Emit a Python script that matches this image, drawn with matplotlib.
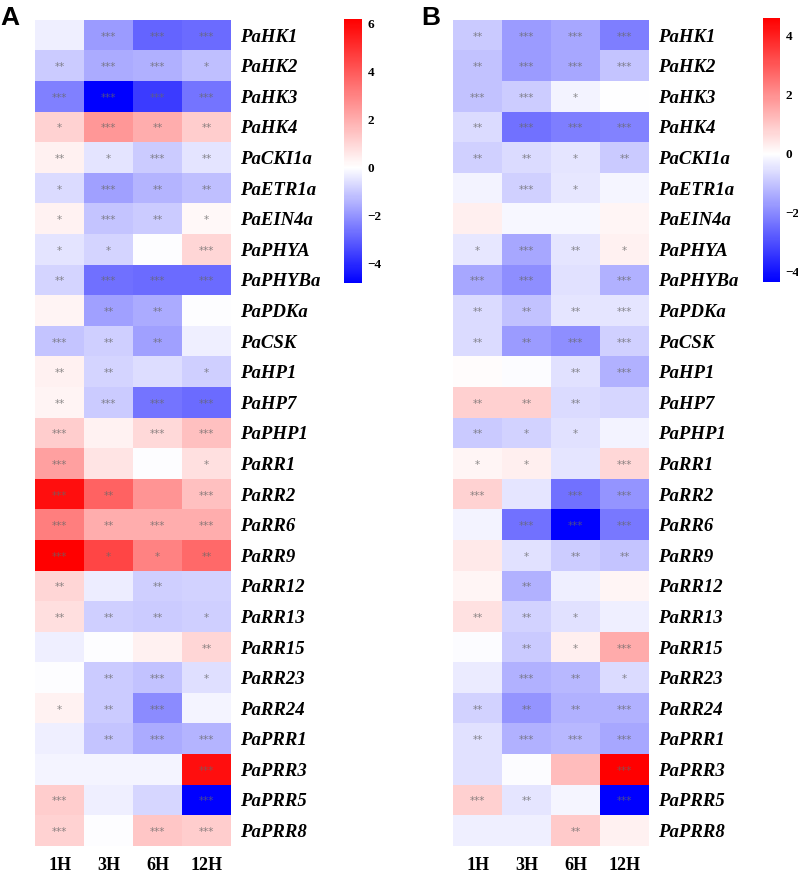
import numpy as np
import matplotlib
matplotlib.use("Agg")
import matplotlib.pyplot as plt
from matplotlib.colors import LinearSegmentedColormap, Normalize

genes = ["PaHK1", "PaHK2", "PaHK3", "PaHK4", "PaCKI1a", "PaETR1a", "PaEIN4a",
         "PaPHYA", "PaPHYBa", "PaPDKa", "PaCSK", "PaHP1", "PaHP7", "PaPHP1",
         "PaRR1", "PaRR2", "PaRR6", "PaRR9", "PaRR12", "PaRR13", "PaRR15",
         "PaRR23", "PaRR24", "PaPRR1", "PaPRR3", "PaPRR5", "PaPRR8"]
times = ["1H", "3H", "6H", "12H"]

# log2 fold change, panel A (rows = genes, cols = times)
values_a = [
    [-0.3, -1.9, -2.9, -2.8],
    [-1.0, -1.6, -1.5, -1.2],
    [-2.4, -4.83, -3.7, -2.6],
    [1.1, 2.5, 2.0, 1.2],
    [0.35, -0.5, -1.0, -0.5],
    [-0.7, -1.8, -1.4, -1.2],
    [0.3, -1.1, -1.0, 0.2],
    [-0.5, -0.8, -0.05, 1.0],
    [-0.8, -2.7, -2.8, -2.8],
    [0.25, -1.8, -1.6, -0.05],
    [-1.1, -0.9, -1.8, -0.3],
    [0.35, -0.8, -0.65, -0.9],
    [0.25, -1.0, -2.6, -2.8],
    [1.2, 0.3, 0.9, 1.5],
    [2.3, 0.65, -0.05, 0.75],
    [5.8, 3.8, 2.6, 1.5],
    [3.1, 2.0, 2.0, 2.0],
    [6.18, 4.5, 3.0, 3.6],
    [1.0, -0.35, -0.9, -0.85],
    [0.8, -0.9, -1.0, -0.9],
    [-0.3, -0.05, 0.35, 1.0],
    [-0.05, -1.0, -1.15, -0.6],
    [0.3, -1.0, -2.2, -0.2],
    [-0.3, -1.1, -1.6, -1.4],
    [-0.2, -0.2, -0.2, 5.8],
    [1.2, -0.3, -0.75, -4.83],
    [1.1, -0.05, 1.4, 1.2],
]
stars_a = [
    ["", "***", "***", "***"],
    ["**", "***", "***", "*"],
    ["***", "***", "***", "***"],
    ["*", "***", "**", "**"],
    ["**", "*", "***", "**"],
    ["*", "***", "**", "**"],
    ["*", "***", "**", "*"],
    ["*", "*", "", "***"],
    ["**", "***", "***", "***"],
    ["", "**", "**", ""],
    ["***", "**", "**", ""],
    ["**", "**", "", "*"],
    ["**", "***", "***", "***"],
    ["***", "", "***", "***"],
    ["***", "", "", "*"],
    ["***", "**", "", "***"],
    ["***", "**", "***", "***"],
    ["***", "*", "*", "**"],
    ["**", "", "**", ""],
    ["**", "**", "**", "*"],
    ["", "", "", "**"],
    ["", "**", "***", "*"],
    ["*", "**", "***", ""],
    ["", "**", "***", "***"],
    ["", "", "", "***"],
    ["***", "", "", "***"],
    ["***", "", "***", "***"],
]

# panel B
values_b = [
    [-0.9, -1.7, -1.5, -2.2],
    [-1.05, -1.7, -1.5, -1.0],
    [-1.05, -0.85, -0.2, -0.03],
    [-0.6, -2.4, -2.2, -2.1],
    [-0.8, -0.6, -0.45, -0.9],
    [-0.2, -0.8, -0.4, -0.15],
    [0.3, -0.12, -0.12, 0.2],
    [-0.4, -1.5, -0.45, 0.25],
    [-1.5, -1.9, -0.5, -1.3],
    [-0.6, -1.05, -0.45, -0.45],
    [-0.6, -1.7, -1.9, -0.8],
    [0.05, -0.07, -0.5, -1.3],
    [0.85, 0.85, -0.6, -0.7],
    [-0.9, -0.75, -0.5, -0.2],
    [0.2, 0.28, -0.45, 0.7],
    [0.8, -0.45, -2.4, -1.8],
    [-0.2, -2.4, -4.33, -2.3],
    [0.4, -0.5, -0.85, -1.0],
    [0.2, -1.3, -0.25, 0.2],
    [0.55, -0.75, -0.5, -0.25],
    [-0.05, -0.9, 0.3, 1.5],
    [-0.35, -1.3, -1.2, -0.6],
    [-0.75, -1.8, -1.3, -1.3],
    [-0.5, -1.3, -1.2, -1.5],
    [-0.5, -0.05, 1.2, 4.6],
    [0.85, -0.45, -0.15, -4.33],
    [-0.25, -0.25, 0.95, 0.25],
]
stars_b = [
    ["**", "***", "***", "***"],
    ["**", "***", "***", "***"],
    ["***", "***", "*", ""],
    ["**", "***", "***", "***"],
    ["**", "**", "*", "**"],
    ["", "***", "*", ""],
    ["", "", "", ""],
    ["*", "***", "**", "*"],
    ["***", "***", "", "***"],
    ["**", "**", "**", "***"],
    ["**", "**", "***", "***"],
    ["", "", "**", "***"],
    ["**", "**", "**", ""],
    ["**", "*", "*", ""],
    ["*", "*", "", "***"],
    ["***", "", "***", "***"],
    ["", "***", "***", "***"],
    ["", "*", "**", "**"],
    ["", "**", "", ""],
    ["**", "**", "*", ""],
    ["", "**", "*", "***"],
    ["", "***", "**", "*"],
    ["**", "**", "**", "***"],
    ["**", "***", "***", "***"],
    ["", "", "", "***"],
    ["***", "**", "", "***"],
    ["", "", "**", ""],
]

SERIF = "Liberation Serif"


def draw_panel(fig, values, stars, hm_rect, cb_rect, letter, letter_x, ticks):
    ''' draws one heatmap with its colorbar '''
    data = np.array(values)
    vmin, vmax = data.min(), data.max()
    w = -vmin / (vmax - vmin)
    cmap = LinearSegmentedColormap.from_list(
        "bwr_c", [(0, "#0000ff"), (w, "#ffffff"), (1, "#ff0000")])
    norm = Normalize(vmin=vmin, vmax=vmax)

    ax = fig.add_axes(hm_rect)
    mesh = ax.pcolormesh(data, cmap=cmap, norm=norm)
    ax.set_xlim(0, data.shape[1])
    ax.set_ylim(data.shape[0], 0)
    for i in range(data.shape[0]):
        for j in range(data.shape[1]):
            if stars[i][j]:
                ax.text(j + 0.5, i + 0.55, stars[i][j], ha="center", va="center",
                        fontsize=7.5, color="0.4", alpha=0.75)
    ax.set_xticks(np.arange(data.shape[1]) + 0.5)
    ax.set_xticklabels(times, fontfamily=SERIF, fontweight="bold", fontsize=13)
    ax.set_yticks(np.arange(data.shape[0]) + 0.5)
    ax.set_yticklabels(genes, fontfamily=SERIF, fontweight="bold",
                       fontstyle="italic", fontsize=13.5)
    ax.yaxis.tick_right()
    ax.tick_params(length=0, pad=6)
    ax.tick_params(axis="x", pad=8)
    for s in ax.spines.values():
        s.set_visible(False)

    cax = fig.add_axes(cb_rect)
    cb = fig.colorbar(mesh, cax=cax, ticks=ticks)
    cb.outline.set_visible(False)
    cax.tick_params(length=0, pad=4)
    cax.set_yticklabels([("\u2212" if t < 0 else "") + str(abs(t)) for t in ticks],
                        fontfamily=SERIF, fontweight="bold", fontsize=9.5)
    fig.text(letter_x, 0.993, letter, fontsize=19, fontweight="bold",
             fontfamily="Liberation Sans", va="top", ha="left")


fig = plt.figure(figsize=(7.98, 8.74), dpi=100)
draw_panel(fig, values_a, stars_a, [0.0442, 0.0322, 0.2456, 0.9451],
           [0.4311, 0.6762, 0.0226, 0.3017], "A", 0.0, [-4, -2, 0, 2, 4, 6])
draw_panel(fig, values_b, stars_b, [0.5680, 0.0322, 0.2456, 0.9451],
           [0.9558, 0.6777, 0.0217, 0.3014], "B", 0.528, [-4, -2, 0, 2, 4])
fig.savefig("out.png", dpi=100)
